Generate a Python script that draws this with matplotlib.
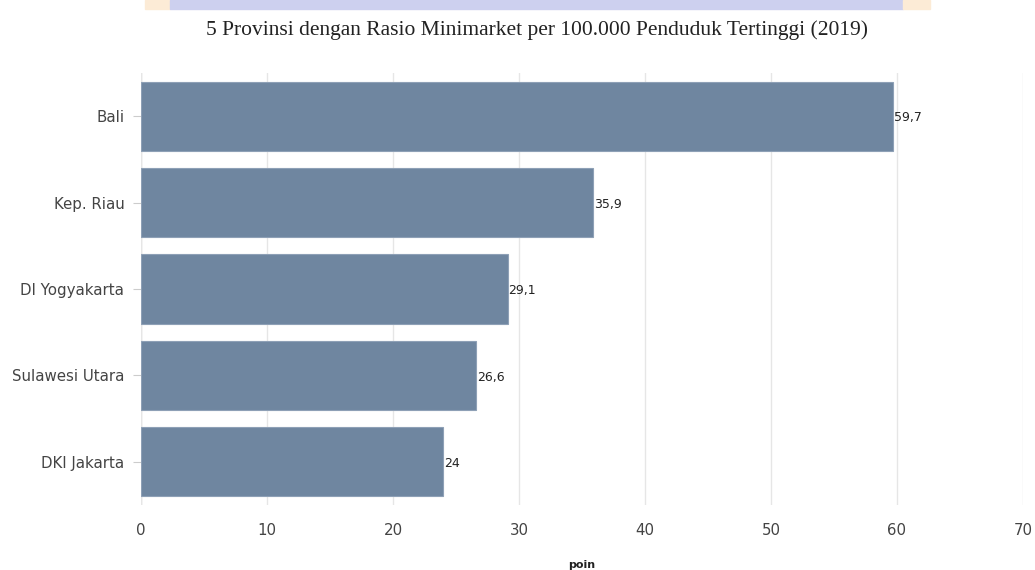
import matplotlib.pyplot as plt
from matplotlib.patches import Rectangle

provinsi = ['Bali', 'Kep. Riau', 'DI Yogyakarta', 'Sulawesi Utara', 'DKI Jakarta']
rasio = [59.7, 35.9, 29.1, 26.6, 24]
label_nilai = ['59,7', '35,9', '29,1', '26,6', '24']

fig = plt.figure(figsize=(10.35, 5.7), dpi=100)
ax = fig.add_axes([141/1035, 1 - 505/570, 882/1035, 432/570])

# sisa banner di atas gambar
fig.patches.append(Rectangle((145/1035, 1 - 9/570), 25/1035, 9/570, transform=fig.transFigure,
                             color='#fcebd6', zorder=0))
fig.patches.append(Rectangle((170/1035, 1 - 9/570), 733/1035, 9/570, transform=fig.transFigure,
                             color='#cdd0ef', zorder=0))
fig.patches.append(Rectangle((903/1035, 1 - 9/570), 27/1035, 9/570, transform=fig.transFigure,
                             color='#fcebd6', zorder=0))

pos = range(len(provinsi))
ax.barh(pos, rasio, height=0.8, color='#6f86a0', edgecolor='#8ea0b6', linewidth=0.8, zorder=2)
for i, (v, t) in enumerate(zip(rasio, label_nilai)):
    ax.text(v + 0.05, i + 0.02, t, va='center', ha='left', fontsize=9, color='#222222', zorder=3)

ax.set_xlim(0, 70)
ax.set_ylim(len(provinsi) - 0.5, -0.5)
ax.set_yticks(list(pos))
ax.set_yticklabels(provinsi)
ax.set_xticks(range(0, 71, 10))
ax.grid(axis='x', color='#e6e6e6', linewidth=1, zorder=0)
ax.axvline(0, color='#d8d8d8', linewidth=1, zorder=1)
for s in ax.spines.values():
    s.set_visible(False)
ax.tick_params(axis='y', length=6, color='#cccccc', labelsize=10.8, labelcolor='#444444', pad=6)
ax.tick_params(axis='x', length=0, labelsize=10.8, labelcolor='#444444', pad=13)
ax.set_xlabel('poin', fontsize=8, fontweight='bold', color='#222222', labelpad=16)

fig.text(537/1035, 1 - 30/570, '5 Provinsi dengan Rasio Minimarket per 100.000 Penduduk Tertinggi (2019)',
         ha='center', va='center', fontsize=15.5, family='Liberation Serif', color='#222222')

fig.savefig('out.png', dpi=100)
